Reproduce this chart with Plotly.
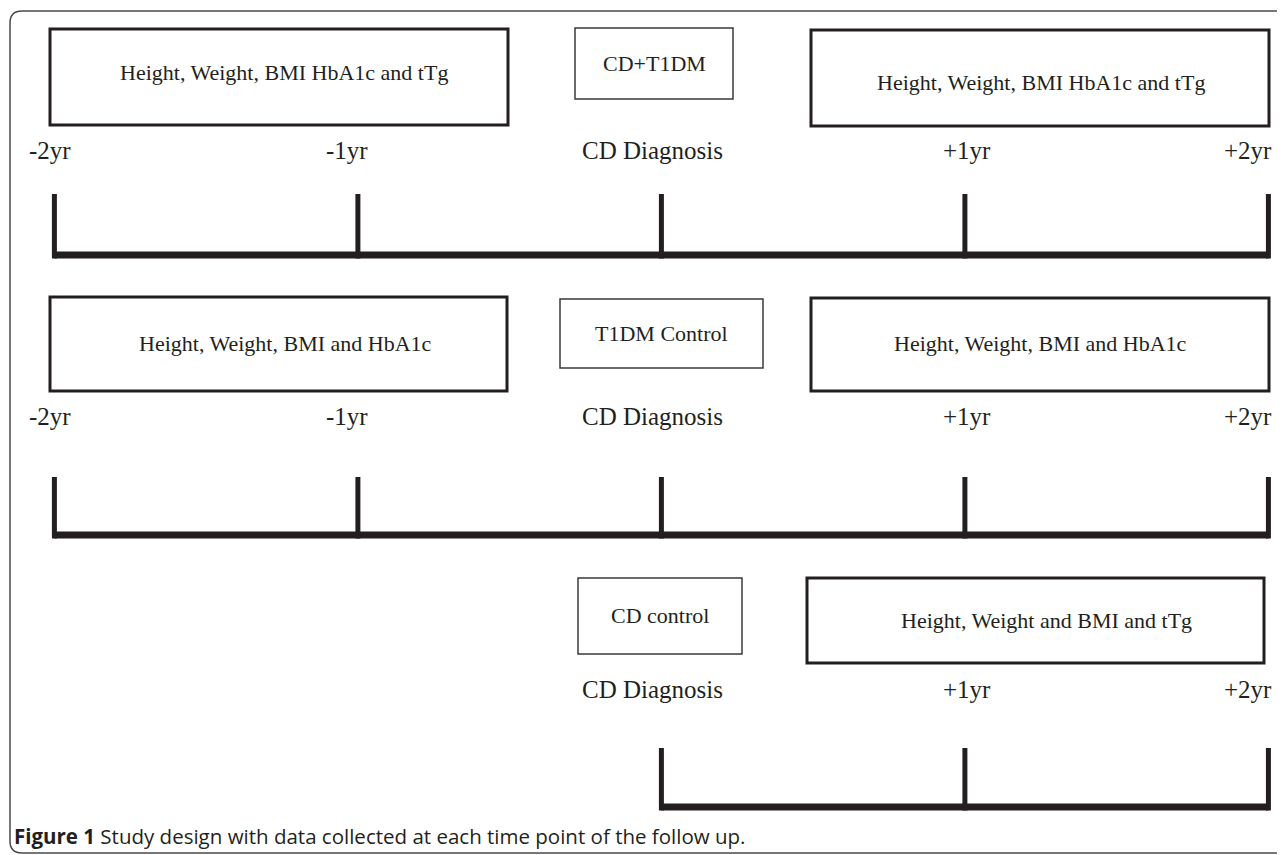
import plotly.graph_objects as go

W, H = 1285, 855
OFF = 8  # the page body keeps an 8px margin; the figure fills the rest

# ---------------- data ----------------
timepoint_labels = ["-2yr", "-1yr", "CD Diagnosis", "+1yr", "+2yr"]
timepoint_years = [-2, -1, 0, 1, 2]

groups = ["CD+T1DM", "T1DM Control", "CD control"]
group_first_timepoint = [0, 0, 2]          # index into timepoint lists
pre_measures = ["Height, Weight, BMI HbA1c and tTg",
                "Height, Weight, BMI and HbA1c",
                None]
post_measures = ["Height, Weight, BMI HbA1c and tTg",
                 "Height, Weight, BMI and HbA1c",
                 "Height, Weight and BMI and tTg"]

caption_bold = "Figure 1"
caption_text = "Study design with data collected at each time point of the follow up."

# ---------------- layout (page pixels) ----------------
INK = "#231f20"
SERIF = "Liberation Serif"

rows = [
    dict(label_y=150, tick_top=194, base_y=255,
         group_box=(575, 28, 733, 99), group_text_y=63,
         pre_box=(50, 29, 508, 125), pre_text=(284, 72),
         post_box=(811, 30, 1269, 126), post_text=(1041, 82)),
    dict(label_y=416, tick_top=477, base_y=535,
         group_box=(560, 299, 763, 368), group_text_y=333,
         pre_box=(50, 297, 507, 391), pre_text=(285, 343),
         post_box=(811, 298, 1269, 391), post_text=(1040, 343)),
    dict(label_y=689, tick_top=748, base_y=807,
         group_box=(578, 578, 742, 654), group_text_y=615,
         pre_box=None, pre_text=None,
         post_box=(807, 578, 1264, 663), post_text=(1046, 620)),
]
label_xshift = [-4, -11, -9, 2, 6]
label_anchor = ["center", "center", "center", "center", "right"]

FW, FH = W - OFF, H - OFF

# x axis in years: page pixel = 661.4 + 303.5 * year
X0, SLOPE = 661.4, 303.5
x_range = [(OFF - X0) / SLOPE, (W - X0) / SLOPE]

fig = go.Figure()
shapes = []
annotations = []

def px(x):
    return (x - OFF) / FW

for r, row in enumerate(rows):
    first = group_first_timepoint[r]
    yrs = timepoint_years[first:]
    base = row["base_y"]
    fig.add_trace(go.Scatter(
        x=[yrs[0], yrs[-1]], y=[base, base], mode="lines",
        line=dict(color=INK, width=7), hoverinfo="skip", showlegend=False))
    tx, ty = [], []
    for yv in yrs:
        tx += [yv, yv, None]
        ty += [row["tick_top"], base + 3.5, None]
    fig.add_trace(go.Scatter(
        x=tx, y=ty, mode="lines", line=dict(color=INK, width=5),
        hoverinfo="skip", showlegend=False))
    for i in range(first, len(timepoint_labels)):
        annotations.append(dict(
            x=timepoint_years[i], y=row["label_y"], xref="x", yref="y",
            text=timepoint_labels[i], showarrow=False,
            xanchor=label_anchor[i], yanchor="middle", xshift=label_xshift[i],
            font=dict(family=SERIF, size=25, color=INK)))
    gx0, gy0, gx1, gy1 = row["group_box"]
    shapes.append(dict(type="rect", xref="paper", yref="y",
                       x0=px(gx0), x1=px(gx1), y0=gy0, y1=gy1,
                       line=dict(color="#3a3a3a", width=1.5)))
    annotations.append(dict(x=px((gx0 + gx1) / 2), y=row["group_text_y"],
                            xref="paper", yref="y", text=groups[r],
                            showarrow=False, xanchor="center", yanchor="middle",
                            font=dict(family=SERIF, size=22, color=INK)))
    for box, tpos, txt in [(row["pre_box"], row["pre_text"], pre_measures[r]),
                           (row["post_box"], row["post_text"], post_measures[r])]:
        if box is None or txt is None:
            continue
        bx0, by0, bx1, by1 = box
        shapes.append(dict(type="rect", xref="paper", yref="y",
                           x0=px(bx0), x1=px(bx1), y0=by0, y1=by1,
                           line=dict(color=INK, width=3)))
        annotations.append(dict(x=px(tpos[0]), y=tpos[1], xref="paper", yref="y",
                                text=txt, showarrow=False,
                                xanchor="center", yanchor="middle",
                                font=dict(family=SERIF, size=22, color=INK)))

# outer rounded frame
rad = 12
fx0, fy0, fx1, fy1 = 10, 11, W + 20, 853
path = (f"M {px(fx0 + rad)},{fy0} L {px(fx1)},{fy0} L {px(fx1)},{fy1} "
        f"L {px(fx0 + rad)},{fy1} Q {px(fx0)},{fy1} {px(fx0)},{fy1 - rad} "
        f"L {px(fx0)},{fy0 + rad} Q {px(fx0)},{fy0} {px(fx0 + rad)},{fy0} Z")
shapes.append(dict(type="path", xref="paper", yref="y", path=path,
                   line=dict(color="#4a4a4a", width=1.5)))

annotations.append(dict(x=px(12), y=836, xref="paper", yref="y",
                        text=f"<b>{caption_bold}</b> {caption_text}",
                        showarrow=False, xanchor="left", yanchor="middle",
                        font=dict(family="Open Sans", size=20.5, color=INK)))

fig.update_layout(
    width=FW, height=FH, margin=dict(l=0, r=0, t=0, b=0),
    paper_bgcolor="white", plot_bgcolor="white",
    xaxis=dict(range=x_range, visible=False, fixedrange=True),
    yaxis=dict(range=[H, OFF], visible=False, fixedrange=True),
    shapes=shapes, annotations=annotations, showlegend=False,
)

fig.write_html("out.html")
